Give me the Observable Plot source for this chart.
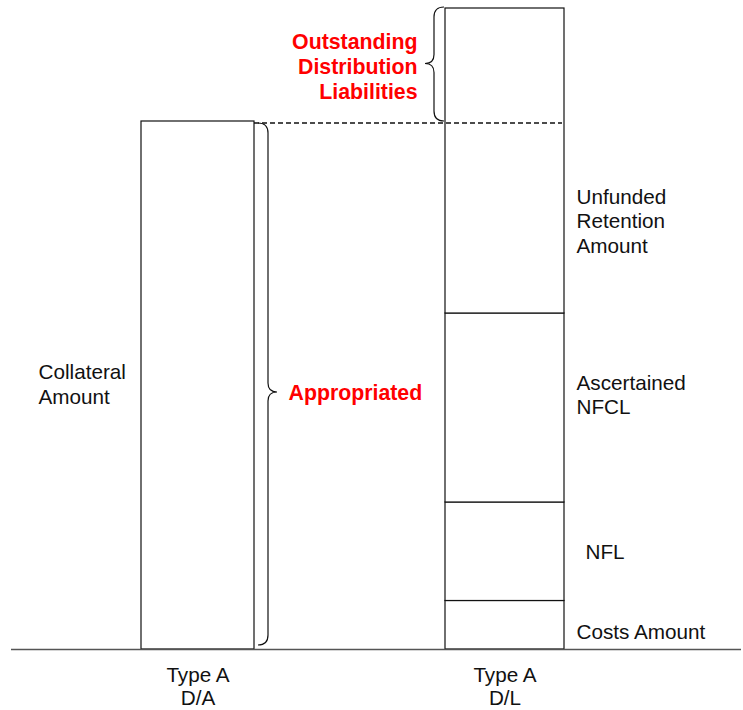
<!DOCTYPE html>
<html><head><meta charset="utf-8">
<script src="https://cdn.jsdelivr.net/npm/d3@7"></script>
<script src="https://cdn.jsdelivr.net/npm/@observablehq/plot@0.6"></script>
<style>body{margin:0;background:#fff} #chart svg{display:block}</style>
</head><body><div id="chart"></div>
<script>
// ---- data ----
const categories = ["Type A\nD/A", "Type A\nD/L"];
const collateralLabel = "Collateral\nAmount";
const collateralValue = 528;
const appropriatedLabel = "Appropriated";
const segmentLabels = ["Costs Amount", "NFL", "Ascertained\nNFCL", "Unfunded\nRetention\nAmount", "Outstanding\nDistribution\nLiabilities"];
const segmentValues = [48.5, 98.5, 189, 190, 115];

// ---- derived ----
let acc = 0;
const segments = segmentLabels.map((label, i) => {
  const y1 = acc; acc += segmentValues[i];
  return {cat: categories[1], label, y1, y2: acc, mid: (y1 + acc) / 2};
});
const total = acc;
const boxes = [segments[0], segments[1], segments[2], {cat: categories[1], y1: segments[3].y1, y2: segments[4].y2}];
const unfundedTop = segments[3].y2;
const collateral = [{cat: categories[0], v: collateralValue, label: collateralLabel, mid: collateralValue / 2}];
const appropriated = [{cat: categories[0], label: appropriatedLabel, mid: collateralValue / 2}];

const FONT = "Liberation Sans, Arial, Helvetica, sans-serif";
const txt = {fontSize: 20.7, fontFamily: FONT, lineHeight: 1.2, fill: "#111"};
const red = {fontSize: 21.3, fontFamily: FONT, lineHeight: 1.17, fill: "#ff0000", fontWeight: "bold"};

const extras = (index, scales) => {
  const x = scales.x, y = scales.y;
  const bw = x.bandwidth ? x.bandwidth() : 119;
  const g = d3.create("svg:g").attr("fill", "none").attr("stroke", "#111").attr("stroke-width", 1.2);
  const xA = x(categories[0]) + bw - 3;
  const xB = x(categories[1]) + bw - 2;
  g.append("line").attr("x1", xA).attr("x2", xB)
    .attr("y1", y(unfundedTop)).attr("y2", y(unfundedTop))
    .attr("stroke-dasharray", "5,3").attr("stroke-width", 1.5);
  function brace(x0, yTop, yBot, yTip, dir) {
    const r = 10, d = 9;
    const xv = x0 + dir * r, xt = xv + dir * d;
    return `M${x0},${yTop}Q${xv},${yTop} ${xv},${yTop + r}L${xv},${yTip - d}Q${xv},${yTip} ${xt},${yTip}Q${xv},${yTip} ${xv},${yTip + d}L${xv},${yBot - r}Q${xv},${yBot} ${x0},${yBot}`;
  }
  g.append("path").attr("d", brace(xA + 4, y(unfundedTop), y(0) - 4, y(collateralValue / 2) + 7, 1));
  g.append("path").attr("d", brace(x(categories[1]) - 1, y(total) - 1, y(unfundedTop) - 2, (y(total) + y(unfundedTop)) / 2 - 2, -1));
  return g.node();
};

const chart = Plot.plot({
  width: 743,
  height: 710,
  marginTop: 8,
  marginBottom: 61,
  marginLeft: 11,
  marginRight: 2,
  style: {fontFamily: FONT, fontSize: "20.7px", color: "#111", background: "white"},
  x: {type: "band", domain: categories, paddingInner: 0.6124, paddingOuter: 0.4951, align: 0.4178},
  y: {domain: [0, total], axis: null},
  marks: [
    Plot.barY(collateral, {x: "cat", y: "v", fill: "white", stroke: "#111", strokeWidth: 1.2, insetLeft: 3, insetRight: 3}),
    Plot.barY(boxes, {x: "cat", y1: "y1", y2: "y2", fill: "white", stroke: "#111", strokeWidth: 1.2}),
    Plot.ruleY([0], {stroke: "#555", strokeWidth: 1.5}),
    extras,
    Plot.axisX({tickSize: 0, tickPadding: 16, fontSize: 20.7, lineHeight: 1.12, label: null}),
    Plot.text([segments[0]], {x: "cat", y: "mid", text: "label", textAnchor: "start", dx: 71.5, dy: 6, ...txt}),
    Plot.text([segments[1]], {x: "cat", y: "mid", text: "label", textAnchor: "start", dx: 80.5, dy: -1, ...txt}),
    Plot.text([segments[2]], {x: "cat", y: "mid", text: "label", textAnchor: "start", dx: 71.5, dy: -14, ...txt}),
    Plot.text([segments[3]], {x: "cat", y: "mid", text: "label", textAnchor: "start", dx: 71.5, dy: 2, ...txt}),
    Plot.text([segments[4]], {x: "cat", y: "mid", text: "label", textAnchor: "end", dx: -87.5, dy: 0, ...red}),
    Plot.text(collateral, {x: "cat", y: "mid", text: "label", textAnchor: "start", dx: -159.5, dy: -2, ...txt}),
    Plot.text(appropriated, {x: "cat", y: "mid", text: "label", textAnchor: "start", dx: 90.5, dy: 7, ...red})
  ]
});
document.getElementById("chart").append(chart);
</script>
</body></html>
